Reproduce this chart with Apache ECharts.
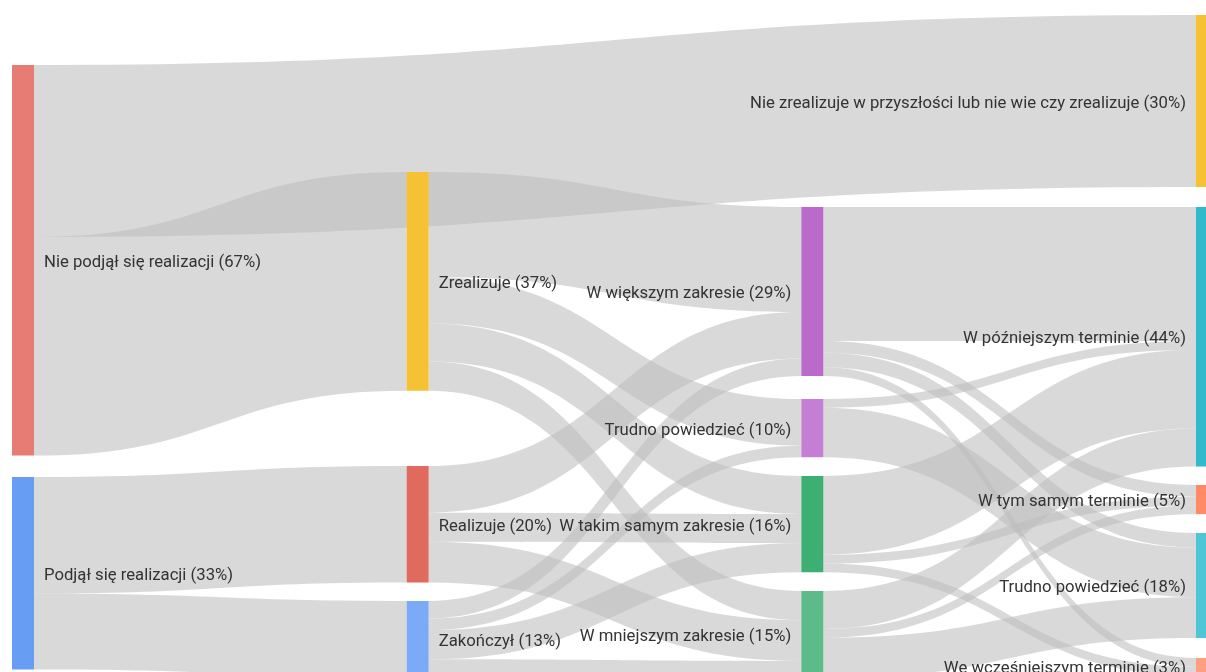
<!DOCTYPE html>
<html><head><meta charset="utf-8">
<script src="https://cdn.jsdelivr.net/npm/echarts@6/dist/echarts.min.js"></script>
<style>html,body{margin:0;padding:0;background:#fff;}#c{width:1206px;height:672px;}</style>
</head><body><div id="c"></div>
<script>
// ---- data ----
const nodeNames = [
  'Nie podjął się realizacji (67%)', 'Podjął się realizacji (33%)',
  'Zrealizuje (37%)', 'Realizuje (20%)', 'Zakończył (13%)',
  'W większym zakresie (29%)', 'Trudno powiedzieć (10%)', 'W takim samym zakresie (16%)', 'W mniejszym zakresie (15%)',
  'Nie zrealizuje w przyszłości lub nie wie czy zrealizuje (30%)', 'W późniejszym terminie (44%)',
  'W tym samym terminie (5%)', 'Trudno powiedzieć (18%)', 'We wcześniejszym terminie (3%)'
];
const linkSources = [0, 0, 1, 1,
  2, 2, 2, 2,  3, 3, 3,  4, 4, 4, 4,
  5, 5, 5, 5,  6, 6,  7, 7, 7,  8, 8, 8];
const linkTargets = [9, 2, 3, 4,
  5, 6, 7, 8,  5, 7, 8,  5, 6, 7, 8,
  10, 11, 12, 13,  10, 12,  10, 11, 13,  10, 11, 12];
const linkValues = [29.5, 37.5, 20, 13,
  18, 8, 6.5, 5,  8, 5, 7,  3, 2, 5, 3,
  23, 2, 2.5, 1.5,  1.5, 8.5,  13.5, 1.5, 1.5,  6.5, 1.5, 7];

// ---- layout & style ----
const LAYOUT_TOP = 15, LAYOUT_H = 663;
const nodeTopPx = [65, 477, 172, 466, 601, 207, 399, 476, 591, 15, 207, 485, 533, 658];
const labelLeft = [false, false, false, false, false, true, true, true, true, true, true, true, true, true];
const nodeColors = ['#E67C73', '#679EF3', '#F6C233', '#E06A5D', '#7BAAF7',
  '#BA6BC9', '#C47FD5', '#3DAF72', '#5CBB88',
  '#F6C233', '#30BACB', '#FF8A65', '#4EC6D5', '#FF9E80'];

const nodes = nodeNames.map((n, i) => ({
  name: n,
  localY: (nodeTopPx[i] - LAYOUT_TOP) / LAYOUT_H,
  itemStyle: { color: nodeColors[i] },
  label: { position: labelLeft[i] ? 'left' : 'right' }
}));
const links = linkValues.map((v, i) => ({
  source: nodeNames[linkSources[i]], target: nodeNames[linkTargets[i]], value: v
}));

const chart = echarts.init(document.getElementById('c'));
chart.setOption({
  animation: false,
  backgroundColor: '#fff',
  series: [{
    type: 'sankey',
    left: 12, top: LAYOUT_TOP, width: 1206, height: LAYOUT_H,
    nodeWidth: 22, nodeGap: 20, layoutIterations: 0, nodeAlign: 'justify',
    draggable: false,
    emphasis: { disabled: true },
    data: nodes,
    links: links,
    label: { fontFamily: 'Roboto', fontSize: 16.7, color: '#333', distance: 10, offset: [0, 2.5], formatter: '{b}' },
    lineStyle: { color: 'rgb(190,190,190)', opacity: 0.58, curveness: 0.5 },
    itemStyle: { borderWidth: 0 }
  }]
});
</script></body></html>
